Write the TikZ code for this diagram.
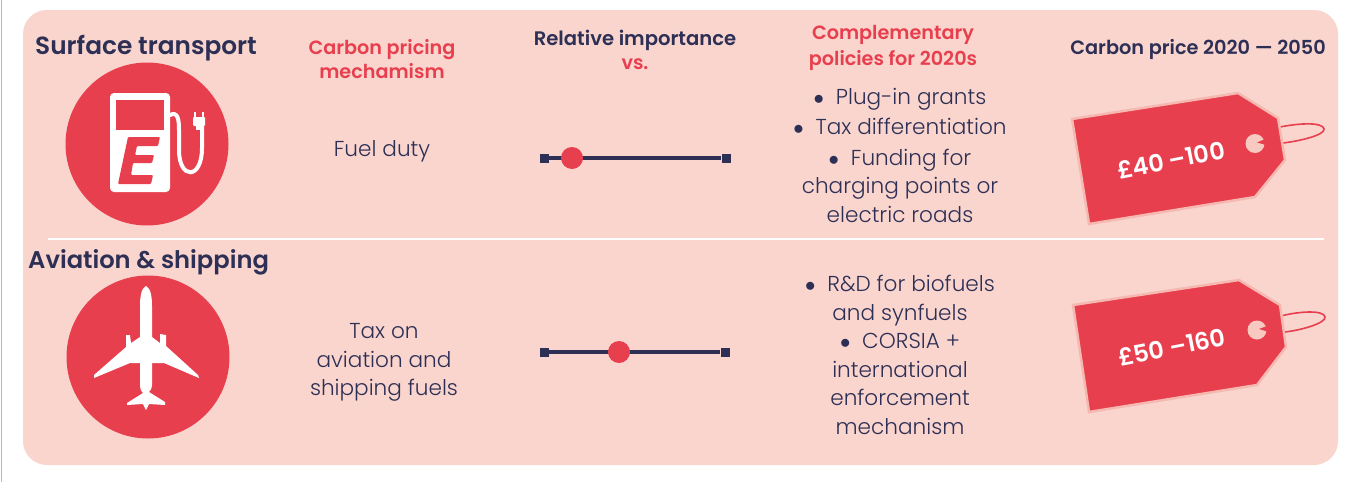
\documentclass[tikz,border=0pt]{standalone}
\usepackage{fontspec}
\setmainfont{Poppins}[BoldFont=Poppins SemiBold]
\newfontfamily\lightf{Poppins Light}
\definecolor{bgpink}{HTML}{F9D5CE}
\definecolor{redc}{HTML}{E83F4E}
\definecolor{navy}{HTML}{2D2F55}
\definecolor{halo}{HTML}{F6B9B1}
\definecolor{holec}{HTML}{F8C9C1}
\definecolor{framec}{HTML}{B5B5C5}
\tikzset{
 x=1pt,y=-1pt,
 head/.style={font=\fontsize{24.2}{28}\selectfont\bfseries,text=navy,anchor=west,inner sep=0},
 headlong/.style={font=\fontsize{24.8}{28}\selectfont\bfseries,text=navy,anchor=west,inner sep=0},
 redh/.style={font=\fontsize{19.2}{25.5}\selectfont\bfseries,text=redc,align=center,inner sep=0},
 redtight/.style={font=\fontsize{19.2}{24.5}\selectfont\bfseries,text=redc,align=center,inner sep=0},
 colh/.style={font=\fontsize{19.6}{25}\selectfont\bfseries,text=navy,align=center,inner sep=0},
 priceh/.style={font=\fontsize{19.3}{25}\selectfont\bfseries,text=navy,align=center,inner sep=0},
 body/.style={font=\lightf\fontsize{21.6}{28.5}\selectfont,text=navy,align=center,inner sep=0},
 disc/.style={circle,fill=redc,inner sep=0,minimum size=#1},
 track/.style={draw=navy,line width=4pt},
 endcap/.style={fill=navy,inner sep=0,minimum size=9pt},
 pricetag/.style={fill=redc,draw=halo,line width=2.5pt,line join=miter},
 loopline/.style={draw=redc,line width=1.6pt},
 price/.style={font=\fontsize{24}{27}\selectfont\bfseries,text=white,inner sep=0,rotate=11},
}
\begin{document}
\begin{tikzpicture}
\useasboundingbox (0,0) rectangle (1356,482);
\fill[white] (0,0) rectangle (1356,482);
\draw[framec,line width=1pt] (1,0) -- (1,482);
\fill[bgpink,rounded corners=24pt] (23,10) rectangle (1338,465);
\draw[white,line width=1.2pt] (48,239) -- (1324,239);

% headings
\node[headlong] (h1) at (35,48) {Surface transport};
\node[head] (h2) at (28,262) {Aviation \& shipping};
\node[redtight] (c1) at (382,59) {Carbon pricing\\mechamism};
\node[colh] (c2) at (635,40) {Relative importance};
\node[redh] (c2b) at (635,64) {vs.};
\node[redh] (c3) at (893,48) {Complementary\\policies for 2020s};
\node[priceh] (c4) at (1198,49) {Carbon price 2020 — 2050};

% pump icon
\node[disc=163pt] (d1) at (147,144) {};
\fill[white,rounded corners=4pt] (110,93) rectangle (170,192);
\fill[redc] (116,100) rectangle (164,130);
\fill[redc,rounded corners=1pt] (128,137) -- (160,137) -- (158,146) -- (137,146) -- (135,155) -- (154,155) -- (152,163) -- (133,163) -- (131,175) -- (153,175) -- (151,184) -- (118,184) -- cycle;
\draw[white,line width=4pt,line cap=round] (170,115) .. controls (178,111) and (179,120) .. (179,130) -- (179,150) .. controls (179,180) and (202,180) .. (202,148) -- (202,127);
\fill[white,rounded corners=1pt] (193,117) rectangle (205,126);
\fill[white] (196,126) rectangle (202,130);
\draw[white,line width=2pt] (195,117) -- (195,112) (203,117) -- (203,112);

% plane icon
\node[disc=163pt] (d2) at (148,357) {};
\fill[white] (146,286) .. controls (141,288) and (140,298) .. (140,306) -- (140,337)
 -- (131,343) -- (130,335) -- (126,335) -- (126,347) -- (94,375) -- (94,378) -- (130,363) -- (140,363)
 -- (140,385) .. controls (140,390) and (142,392) .. (143,393)
 -- (127,403) -- (127,405) -- (143,404) -- (146,410) -- (149,404) -- (165,405) -- (165,402) -- (149,392)
 .. controls (151,390) and (152,388) .. (152,385) -- (152,363) -- (164,363) -- (199,378) -- (198,375) -- (166,346) -- (166,335) -- (160,334) -- (160,343) -- (152,337)
 -- (152,306) .. controls (152,298) and (151,288) .. (146,286) -- cycle;

% body text
\node[body] (f1) at (382,151) {Fuel duty};
\node[body] (f2) at (384,362.5) {Tax on\\aviation and\\shipping fuels};
\node[body] (p1) at (900,155) {$\bullet$\ \ Plug-in grants\\[2pt]$\bullet$\ \ Tax differentiation\\[2pt]$\bullet$\ \ Funding for\\charging points or\\electric roads};
\node[body] (p2) at (900,355) {$\bullet$\ \ R\&D for biofuels\\and synfuels\\$\bullet$\ \ CORSIA +\\international\\enforcement\\mechanism};

% sliders
\node[endcap] (a1) at (544,158) {};
\node[endcap] (b1) at (726,158) {};
\draw[track] (a1) -- (b1);
\node[disc=22pt] (m1) at (572,158) {};
\node[endcap] (a2) at (544,352) {};
\node[endcap] (b2) at (725,352) {};
\draw[track] (a2) -- (b2);
\node[disc=22pt] (m2) at (619,352) {};

% tags
\draw[loopline] (1280,127) .. controls (1300,123) and (1323,122) .. (1324,129) .. controls (1325,135) and (1300,141) .. (1283,143);
\draw[pricetag] (1072,119) -- (1238,93) -- (1278,118) -- (1285,160) -- (1255,197) -- (1089,224) -- cycle;
\fill[holec] (1255,143.5) circle (9.5pt);
\fill[redc] (1257,142.5) -- (1271,136.5) -- (1271,146.5) -- cycle;
\node[price] (t1) at (1171,160) {£40 –100};

\draw[loopline] (1281,316) .. controls (1300,311) and (1324,310) .. (1325,317) .. controls (1326,323) and (1302,330) .. (1285,332);
\draw[pricetag] (1073,305) -- (1239,280) -- (1280,305) -- (1286,347) -- (1257,385) -- (1089,412) -- cycle;
\fill[holec] (1257,330) circle (9.5pt);
\fill[redc] (1259,329) -- (1272,324) -- (1272,333) -- cycle;
\node[price] (t2) at (1172,347) {£50 –160};
\end{tikzpicture}
\end{document}
